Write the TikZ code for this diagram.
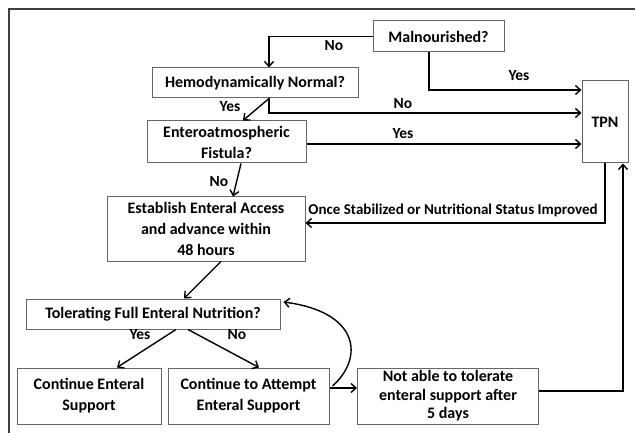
\documentclass[tikz,border=0pt]{standalone}
\usepackage{fontspec}
\setmainfont{Carlito}
\usetikzlibrary{arrows.meta}

\tikzset{
  box/.style={draw=black!60, line width=1pt, font=\fontsize{16}{21}\selectfont\bfseries, align=center, inner sep=0pt},
  flow/.style={-{Straight Barb[length=5pt,width=9pt]}, line width=1.4pt},
  lbl/.style={font=\fontsize{15.5}{17}\selectfont\bfseries, inner sep=0pt}
}

\begin{document}
\begin{tikzpicture}[x=1pt,y=-1pt]
        \useasboundingbox (0,0) rectangle (635,433);
        % outer frame
        \draw[line width=1.6pt, black!75] (9,433) -- (9,9) -- (635,9);
        % boxes
        \node[box, minimum width=131pt, minimum height=31pt] (maln) at (438.5,36.5) {Malnourished?};
        \node[box, minimum width=206pt, minimum height=30pt] (hemo) at (255,83) {Hemodynamically Normal?};
        \node[box, minimum width=159pt, minimum height=42pt] (fist) at (226.5,142) {Enteroatmospheric\\Fistula?};
        \node[box, minimum width=46pt, minimum height=82pt] (tpn) at (605,122) {TPN};
        \node[box, minimum width=198pt, minimum height=64pt] (access) at (206,229) {Establish Enteral Access\\and advance within\\48 hours};
        \node[box, minimum width=254pt, minimum height=30pt] (tol) at (153,314) {Tolerating Full Enteral Nutrition?};
        \node[box, minimum width=144pt, minimum height=56pt] (cont) at (89,396) {Continue Enteral\\Support};
        \node[box, minimum width=161pt, minimum height=56pt] (attempt) at (248.5,396) {Continue to Attempt\\Enteral Support};
        \node[box, minimum width=181pt, minimum height=56pt, font=\fontsize{16}{18.5}\selectfont\bfseries] (notable) at (448,396) {Not able to tolerate\\enteral support after\\5 days};
        % labels
        \node[lbl] (noMal) at (334,46) {No};
        \node[lbl] (yesMal) at (519,76) {Yes};
        \node[lbl] (noHemo) at (403,104) {No};
        \node[lbl] (yesHemo) at (230,107) {Yes};
        \node[lbl] (yesFist) at (403,134) {Yes};
        \node[lbl] (noFist) at (219,182) {No};
        \node[lbl, font=\fontsize{15}{17}\selectfont\bfseries] (once) at (453,210) {Once Stabilized or Nutritional Status Improved};
        \node[lbl] (yesTol) at (140,335) {Yes};
        \node[lbl] (noTol) at (237,335) {No};
        % connectors
        \draw[flow] (maln.west) -| ([xshift=14pt]hemo.north);
        \draw[flow] ([xshift=-9.5pt]maln.south) |- ([yshift=32pt]tpn.west);
        \draw[flow] ([xshift=14pt]hemo.south) |- ([yshift=9pt]tpn.west);
        \draw[flow] ([xshift=14pt]hemo.south) -- ([xshift=16.5pt]fist.north);
        \draw[flow] ([yshift=-2pt]fist.east) -- ([yshift=-22pt]tpn.west);
        \draw[flow] ([xshift=14.5pt]fist.south) -- ([xshift=27pt]access.north);
        \draw[flow] (tpn.south) |- ([yshift=6pt]access.east);
        \draw[flow] ([yshift=5pt]notable.east) -| ([xshift=18pt]tpn.south);
        \draw[flow] ([xshift=15pt]access.south) -- ([xshift=31pt]tol.north);
        \draw[flow] ([xshift=23pt]tol.south) -- ([xshift=28pt]cont.north);
        \draw[flow] ([xshift=35pt]tol.south) -- ([xshift=10.5pt]attempt.north);
        \draw[flow] ([yshift=8pt]attempt.east) -- ([yshift=8pt]notable.west);
        \draw[flow] ([xshift=3pt,yshift=10pt]attempt.east) .. controls (364,358) and (360,312) .. ([xshift=3pt,yshift=12pt]tol.east);
    \end{tikzpicture}
\end{document}
